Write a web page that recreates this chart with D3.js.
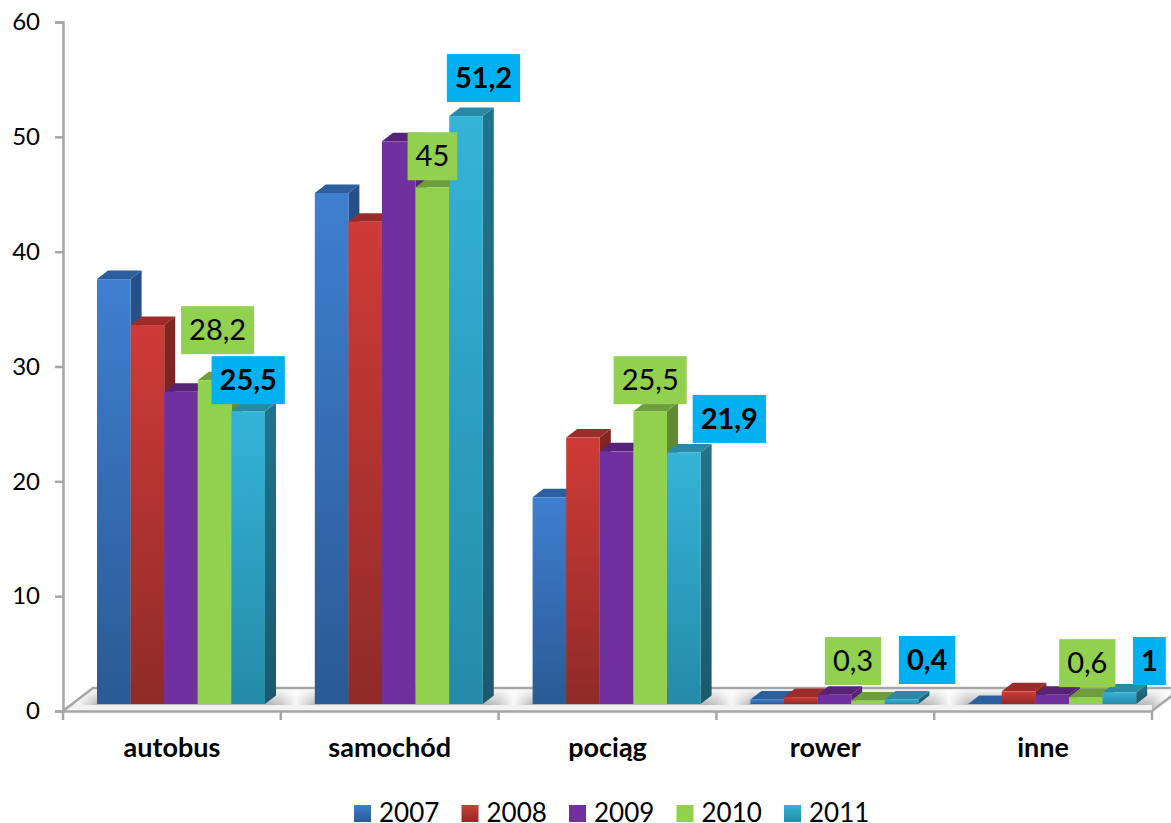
<!DOCTYPE html>
<html>
<head>
<meta charset="utf-8">
<script src="https://d3js.org/d3.v7.min.js"></script>
<style>
    body { margin: 0; background: #fff; }
    text { font-family: Lato, "Open Sans", sans-serif; fill: #000; }
</style>
</head>
<body>
<div id="chart"></div>
<script>
var categories = ["autobus", "samochód", "pociąg", "rower", "inne"];
var years = ["2007", "2008", "2009", "2010", "2011"];
var yTicks = [0, 10, 20, 30, 40, 50, 60];

var values2007 = [37, 44.5, 18, 0.4, 0];
var values2008 = [33, 42, 23.2, 0.6, 1.1];
var values2009 = [27.2, 49, 22, 0.8, 0.8];
var values2010 = [28.2, 45, 25.5, 0.3, 0.6];
var values2011 = [25.5, 51.2, 21.9, 0.4, 1];

var seriesValues = [values2007, values2008, values2009, values2010, values2011];

// colours per year: front top, front bottom, top face, side top, side bottom
var colors = [
    ["#3f7fd0", "#2a5a94", "#2c5f9e", "#27508a", "#234a7a"],
    ["#cf3b37", "#8f2b28", "#9b2c2a", "#812522", "#6e201d"],
    ["#7030a0", "#7030a0", "#582278", "#582278", "#582278"],
    ["#92d050", "#92d050", "#6f9c3d", "#618a34", "#618a34"],
    ["#35b4d8", "#258aa8", "#2a89a5", "#20748b", "#1b5a6c"]
];

// where the value boxes sit, relative to the top of their bar
var labelOffsets = {
    "autobus-2010": [3, -50], "autobus-2011": [0, -31],
    "samochód-2010": [0, -31], "samochód-2011": [17.5, -38],
    "pociąg-2010": [0, -31], "pociąg-2011": [45.5, -33.6],
    "rower-2010": [-15, -39.5], "rower-2011": [25.5, -39.4],
    "inne-2010": [1.5, -34], "inne-2011": [30, -31.5]
};

var width = 1171, height = 823;
var depthX = 11, depthY = 8.5;   // bar depth
var floorX = 30, floorY = 23;    // floor depth
var barLift = 7;                 // bars stand a bit behind the front edge

var svg = d3.select("#chart").append("svg")
    .attr("width", width)
    .attr("height", height)
    .style("display", "block");

var x = d3.scaleBand().domain(categories).range([63, 1152]);
var xYear = d3.scaleBand().domain(years).range([34, 202]);
var y = d3.scaleLinear().domain([0, 60]).range([711, 22]);

var defs = svg.append("defs");
colors.forEach(function (c, i) {
    var front = defs.append("linearGradient").attr("id", "front" + i)
        .attr("x1", 0).attr("y1", 0).attr("x2", 0).attr("y2", 1);
    front.append("stop").attr("offset", 0).attr("stop-color", c[0]);
    front.append("stop").attr("offset", 1).attr("stop-color", c[1]);
    var side = defs.append("linearGradient").attr("id", "side" + i)
        .attr("x1", 0).attr("y1", 0).attr("x2", 0).attr("y2", 1);
    side.append("stop").attr("offset", 0).attr("stop-color", c[3]);
    side.append("stop").attr("offset", 1).attr("stop-color", c[4]);
});

var floorGrad = defs.append("linearGradient").attr("id", "floorGrad")
    .attr("gradientUnits", "userSpaceOnUse")
    .attr("x1", x("autobus")).attr("x2", x("autobus") + x.bandwidth())
    .attr("y1", 0).attr("y2", 0)
    .attr("spreadMethod", "repeat");
[[0, "#c4c4c4"], [0.07, "#f6f6f6"], [0.16, "#b4b4b4"], [0.95, "#b4b4b4"], [1, "#c4c4c4"]].forEach(function (s) {
    floorGrad.append("stop").attr("offset", s[0]).attr("stop-color", s[1]);
});
var floorFade = defs.append("linearGradient").attr("id", "floorFade")
    .attr("x1", 0).attr("y1", 0).attr("x2", 0).attr("y2", 1);
floorFade.append("stop").attr("offset", 0).attr("stop-color", "#fff").attr("stop-opacity", 0.95);
floorFade.append("stop").attr("offset", 0.75).attr("stop-color", "#fff").attr("stop-opacity", 0);

// floor
var x0 = x.range()[0], x1 = x.range()[1], y0 = y(0);
var floorPts = [[x0, y0], [x1, y0], [x1 + floorX, y0 - floorY], [x0 + floorX, y0 - floorY]];
svg.append("polygon").attr("points", floorPts.join(" ")).attr("fill", "url(#floorGrad)");
svg.append("polygon").attr("points", floorPts.join(" ")).attr("fill", "url(#floorFade)");
svg.append("rect").attr("x", x0).attr("y", y0 - 6).attr("width", x1 - x0).attr("height", 6).attr("fill", "#f2f2f2");
svg.append("polyline")
    .attr("points", [[x0, y0], [x0 + floorX, y0 - floorY], [x1 + floorX, y0 - floorY], ].join(" "))
    .attr("fill", "none").attr("stroke", "#a6a6a6").attr("stroke-width", 2.5);
svg.append("line")
    .attr("x1", x1).attr("y1", y0).attr("x2", x1 + floorX).attr("y2", y0 - floorY)
    .attr("stroke", "#a6a6a6").attr("stroke-width", 2.5);

// axes
var yAxis = svg.append("g")
    .attr("transform", "translate(" + x0 + ",0)")
    .call(d3.axisLeft(y).tickValues(yTicks).tickSize(8).tickPadding(15));
yAxis.selectAll("text").style("font-size", "24px");

var xAxis = svg.append("g")
    .attr("transform", "translate(0," + y0 + ")")
    .call(d3.axisBottom(x).tickSize(0).tickPadding(27));
xAxis.selectAll("text").style("font-size", "27px").style("font-weight", "700");
xAxis.selectAll(".boundary").data(d3.range(categories.length + 1)).enter().append("line")
    .attr("class", "boundary")
    .attr("x1", function (i) { return x0 + i * x.step(); })
    .attr("x2", function (i) { return x0 + i * x.step(); })
    .attr("y1", 0).attr("y2", 9);

svg.selectAll(".domain, .tick line, .boundary")
    .attr("stroke", "#a6a6a6").attr("stroke-width", 2.5);

// bars
var bars = [];
categories.forEach(function (cat, c) {
    years.forEach(function (year, s) {
        bars.push({ cat: cat, year: year, s: s, value: seriesValues[s][c] });
    });
});

function barLeft(d) { return x(d.cat) + xYear(d.year); }
function barTop(d) { return y(d.value) - barLift; }
function barBottom() { return y(0) - barLift; }

var bar = svg.selectAll(".bar").data(bars).enter().append("g").attr("class", "bar");

bar.append("polygon")
    .attr("fill", function (d) { return "url(#side" + d.s + ")"; })
    .attr("points", function (d) {
        var r = barLeft(d) + xYear.bandwidth();
        return [[r, barTop(d)], [r + depthX, barTop(d) - depthY], [r + depthX, barBottom() - depthY], [r, barBottom()]].join(" ");
    });
bar.append("polygon")
    .attr("fill", function (d) { return colors[d.s][2]; })
    .attr("points", function (d) {
        var l = barLeft(d), r = l + xYear.bandwidth();
        return [[l, barTop(d)], [l + depthX, barTop(d) - depthY], [r + depthX, barTop(d) - depthY], [r, barTop(d)]].join(" ");
    });
bar.filter(function (d) { return d.value > 0; }).append("rect")
    .attr("x", barLeft)
    .attr("y", barTop)
    .attr("width", xYear.bandwidth())
    .attr("height", function (d) { return barBottom() - barTop(d); })
    .attr("fill", function (d) { return "url(#front" + d.s + ")"; });

// value boxes for 2010 and 2011
var boxed = bars.filter(function (d) { return d.year === "2010" || d.year === "2011"; });
var label = svg.selectAll(".label").data(boxed).enter().append("g")
    .attr("class", "label")
    .attr("transform", function (d) {
        var off = labelOffsets[d.cat + "-" + d.year];
        return "translate(" + (barLeft(d) + xYear.bandwidth() / 2 + off[0]) + "," + (barTop(d) + off[1]) + ")";
    });
label.append("rect")
    .attr("fill", function (d) { return d.year === "2010" ? "#92d050" : "#00b0f0"; });
label.append("text")
    .attr("text-anchor", "middle")
    .attr("dy", "0.35em")
    .style("font-size", "29px")
    .style("font-weight", function (d) { return d.year === "2011" ? 700 : 400; })
    .text(function (d) { return String(d.value).replace(".", ","); });
label.each(function () {
    var w = d3.select(this).select("text").node().getComputedTextLength() + 16;
    d3.select(this).select("rect")
        .attr("x", -w / 2).attr("y", -24).attr("width", w).attr("height", 48);
});

// legend
var legendX = d3.scalePoint().domain(years).range([354, 784]);
var legend = svg.selectAll(".legend").data(years).enter().append("g")
    .attr("class", "legend")
    .attr("transform", function (d) { return "translate(" + legendX(d) + ",805)"; });
legend.append("rect")
    .attr("width", 17).attr("height", 17)
    .attr("fill", function (d, i) { return "url(#front" + i + ")"; });
legend.append("text")
    .attr("x", 25).attr("y", 17)
    .style("font-size", "26px")
    .text(function (d) { return d; });
</script>
</body>
</html>
